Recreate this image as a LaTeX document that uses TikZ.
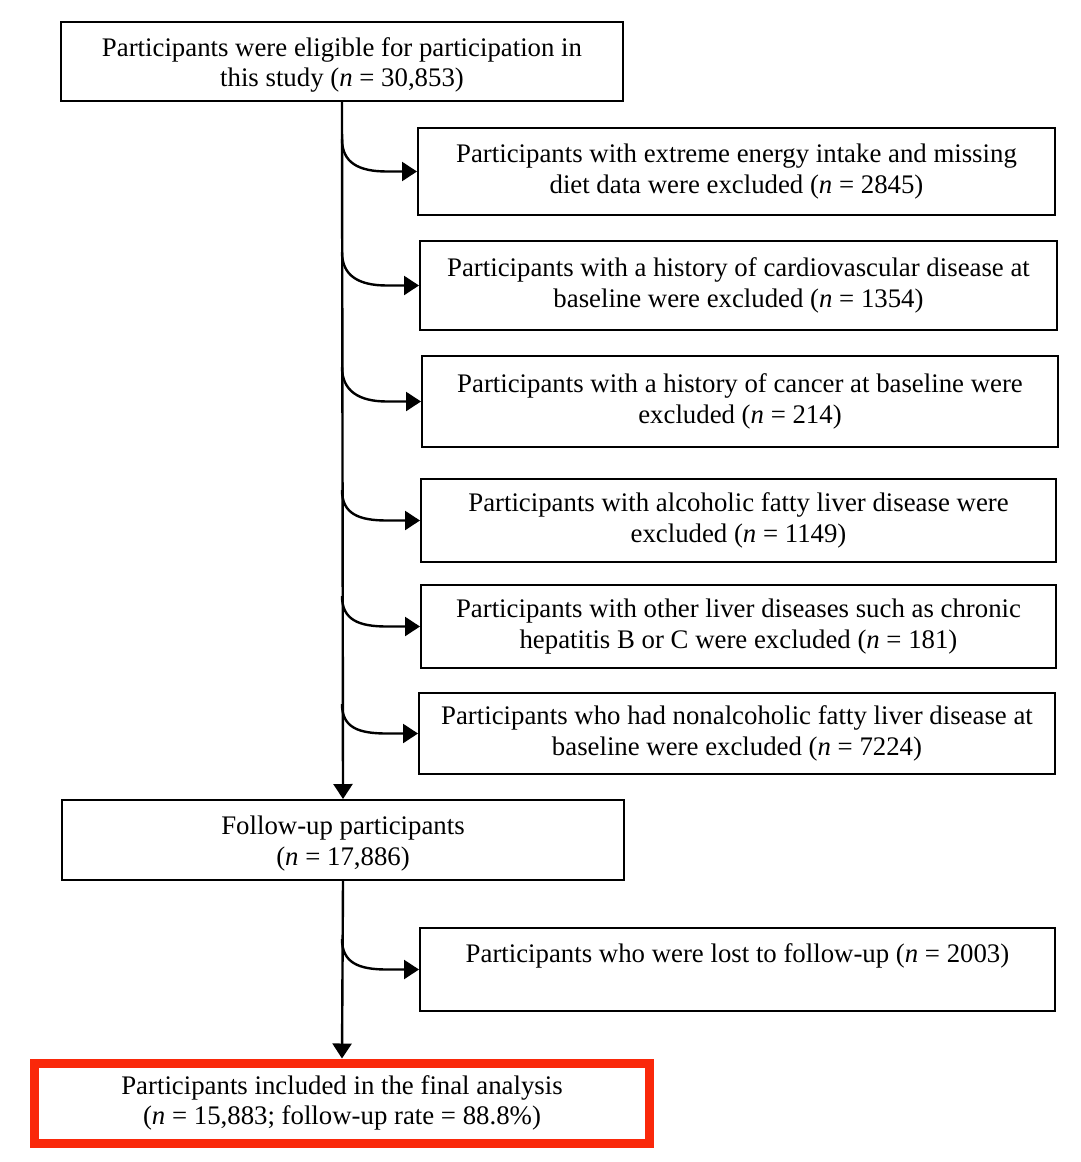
\documentclass[tikz,border=0pt]{standalone}
\usepackage{fontspec}
\setmainfont{Liberation Serif}
\usetikzlibrary{arrows.meta,calc}
\definecolor{redbox}{RGB}{250,40,10}
\newcommand\hstrut{\rule{0pt}{26pt}}
\begin{document}
\begin{tikzpicture}[x=1pt,y=-1pt,
  box/.style={draw,line width=2pt,inner sep=0pt,align=center,font=\fontsize{26.8}{30.5}\selectfont},
  arr/.style={line width=2.4pt,-{Triangle[length=15pt,width=19pt]}},
  branch/.style={line width=2.4pt,-{Triangle[length=15pt,width=19pt]}}]
\useasboundingbox (0,0) rectangle (1080,1162);
\node[box,minimum width=562pt,minimum height=79pt] (top) at (342,61.5) {\hstrut Participants were eligible for participation in\\this study (\textit{n} = 30,853)};
\node[box,minimum width=637pt,minimum height=87pt] (A) at (736.5,171.5) {Participants with extreme energy intake and missing\\diet data were excluded (\textit{n} = 2845)};
\node[box,minimum width=637pt,minimum height=89pt] (B) at (738.5,285.5) {Participants with a history of cardiovascular disease at\\baseline were excluded (\textit{n} = 1354)};
\node[box,minimum width=636pt,minimum height=91pt] (C) at (740,401.5) {Participants with a history of cancer at baseline were\\excluded (\textit{n} = 214)};
\node[box,minimum width=635pt,minimum height=83pt] (D) at (738.5,520.5) {Participants with alcoholic fatty liver disease were\\excluded (\textit{n} = 1149)};
\node[box,minimum width=635pt,minimum height=83pt] (E) at (738.5,626.5) {Participants with other liver diseases such as chronic\\hepatitis B or C were excluded (\textit{n} = 181)};
\node[box,minimum width=636pt,minimum height=81pt] (F) at (737,733.5) {Participants who had nonalcoholic fatty liver disease at\\baseline were excluded (\textit{n} = 7224)};
\node[box,minimum width=562pt,minimum height=80pt] (fu) at (343,840) {\hstrut Follow-up participants\\(\textit{n} = 17,886)};
\node[box,minimum width=635pt,minimum height=83pt] (lost) at (737.5,969.5) {\hstrut Participants who were lost to follow-up (\textit{n} = 2003)\\\strut};
\node[box,draw=redbox,line width=9pt,minimum width=615pt,minimum height=80pt] (fin) at (342,1103) {Participants included in the final analysis\\(\textit{n} = 15,883; follow-up rate = 88.8\%)\rule[-6pt]{0pt}{0pt}};
\draw[arr] (top.south) -- (fu.north);
\draw[arr] (fu.south) -- (fin.north);
\foreach \b in {A,B,C,D,E,F,lost}{
  \coordinate (s\b) at ($(top.south |- \b.north)+(0,12)$);
  \coordinate (c\b) at ($(top.south |- \b.west)+(45,0)$);
  \draw[branch] (s\b) .. controls +(0,24) and +(-28,0) .. (c\b) -- (\b.west);
}
\end{tikzpicture}
\end{document}
